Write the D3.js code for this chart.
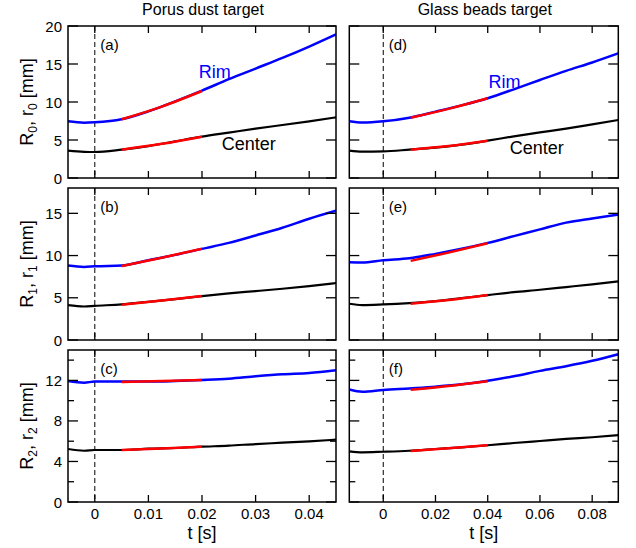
<!DOCTYPE html>
<html><head><meta charset="utf-8">
<script src="https://cdn.jsdelivr.net/npm/d3@7"></script>
<style>
html,body{margin:0;padding:0;background:#fff;}
svg{display:block;font-family:"Liberation Sans",Arial,sans-serif;}
</style></head>
<body>
<svg id="chart" width="636" height="548"></svg>
<script>
// ---- data ----
const titles = ["Porus dust target", "Glass beads target"];
const panelLabels = [["(a)", "(b)", "(c)"], ["(d)", "(e)", "(f)"]];
const xDomainLeft = [-0.005, 0.045];
const xDomainRight = [-0.013, 0.09];
const xTicksLeft = [0, 0.01, 0.02, 0.03, 0.04];
const xTicksRight = [0, 0.02, 0.04, 0.06, 0.08];
const yMax = [20, 18, 15];
const yTicksMajor = [[0, 5, 10, 15, 20], [0, 5, 10, 15], [0, 4, 8, 12]];
const yTicksMinor = [[], [], [2, 6, 10, 14]];
const ySubs = ["0", "1", "2"];

const tLeft = [-0.005, -0.002, 0, 0.005, 0.01, 0.015, 0.02, 0.025, 0.03, 0.035, 0.04, 0.045];
const rimA = [7.46, 7.28, 7.33, 7.72, 8.77, 10.09, 11.5, 13.0, 14.4, 15.8, 17.3, 18.9];
const cenA = [3.6, 3.45, 3.42, 3.73, 4.2, 4.82, 5.44, 5.97, 6.5, 6.97, 7.46, 7.98];
const rimB = [8.81, 8.65, 8.73, 8.81, 9.44, 10.08, 10.79, 11.5, 12.38, 13.29, 14.36, 15.3];
const cenB = [4.13, 3.97, 4.05, 4.21, 4.52, 4.84, 5.2, 5.52, 5.79, 6.07, 6.39, 6.75];
const rimC = [11.94, 11.78, 11.88, 11.88, 11.88, 11.94, 12.04, 12.17, 12.4, 12.6, 12.74, 13.0];
const cenC = [5.23, 5.06, 5.13, 5.13, 5.26, 5.33, 5.46, 5.56, 5.72, 5.85, 5.99, 6.15];

const tRight = [-0.013, -0.008, 0, 0.01, 0.02, 0.03, 0.04, 0.05, 0.06, 0.07, 0.08, 0.09];
const rimD = [7.46, 7.3, 7.46, 7.94, 8.73, 9.56, 10.5, 11.67, 12.9, 14.1, 15.2, 16.4];
const cenD = [3.6, 3.46, 3.5, 3.73, 3.99, 4.39, 4.91, 5.48, 6.0, 6.5, 7.06, 7.63];
const rimE = [9.2, 9.17, 9.44, 9.68, 10.2, 10.8, 11.5, 12.3, 13.1, 13.9, 14.4, 14.85];
const cenE = [4.29, 4.13, 4.21, 4.37, 4.6, 4.96, 5.32, 5.67, 5.95, 6.27, 6.59, 6.94];
const rimF = [11.1, 10.88, 11.05, 11.21, 11.38, 11.61, 11.97, 12.4, 12.94, 13.4, 13.93, 14.58];
const cenF = [5.0, 4.9, 4.96, 5.06, 5.23, 5.4, 5.6, 5.82, 6.02, 6.22, 6.39, 6.59];

// red linear-fit segments
const fitTLeft = [0.005, 0.0125, 0.02];
const fitRimA = [7.72, 9.4, 11.45];
const fitCenA = [3.73, 4.5, 5.44];
const fitRimB = [8.75, 9.75, 10.8];
const fitCenB = [4.18, 4.67, 5.2];
const fitRimC = [11.85, 11.93, 12.04];
const fitCenC = [5.13, 5.28, 5.45];
const fitTRight = [0.0105, 0.025, 0.04];
const fitRimD = [7.94, 9.1, 10.5];
const fitCenD = [3.73, 4.2, 4.9];
const fitRimE = [9.37, 10.35, 11.45];
const fitCenE = [4.3, 4.73, 5.33];
const fitRimF = [11.07, 11.45, 11.92];
const fitCenF = [5.03, 5.3, 5.6];

// ---- layout ----
const colX = [[68, 336], [349.3, 618.3]];
const rowY = [[26, 178], [188, 340], [350, 502]];
const FONT = 15;

const svg = d3.select("#chart");
const defs = svg.append("defs");

const series = [
  [[rimA, cenA, fitRimA, fitCenA], [rimB, cenB, fitRimB, fitCenB], [rimC, cenC, fitRimC, fitCenC]],
  [[rimD, cenD, fitRimD, fitCenD], [rimE, cenE, fitRimE, fitCenE], [rimF, cenF, fitRimF, fitCenF]]
];

for (let c = 0; c < 2; c++) {
  const xs = d3.scaleLinear().domain(c === 0 ? xDomainLeft : xDomainRight).range(colX[c]);
  const tArr = c === 0 ? tLeft : tRight;
  const fitT = c === 0 ? fitTLeft : fitTRight;
  const xt = c === 0 ? xTicksLeft : xTicksRight;

  // column title
  svg.append("text").attr("x", (colX[c][0] + colX[c][1]) / 2 + 1).attr("y", 15)
    .attr("text-anchor", "middle").attr("font-size", 16).text(titles[c]);

  for (let r = 0; r < 3; r++) {
    const ys = d3.scaleLinear().domain([0, yMax[r]]).range([rowY[r][1], rowY[r][0]]);
    const g = svg.append("g");
    const clipId = `clip${c}${r}`;
    defs.append("clipPath").attr("id", clipId).append("rect")
      .attr("x", colX[c][0]).attr("y", rowY[r][0])
      .attr("width", colX[c][1] - colX[c][0]).attr("height", rowY[r][1] - rowY[r][0]);

    const plot = g.append("g").attr("clip-path", `url(#${clipId})`);
    // dashed t=0 line
    plot.append("line").attr("x1", xs(0)).attr("x2", xs(0))
      .attr("y1", rowY[r][0]).attr("y2", rowY[r][1])
      .attr("stroke", "#000").attr("stroke-width", 1).attr("stroke-dasharray", "5,3");

    const [rim, cen, fRim, fCen] = series[c][r];
    const line = d3.line().x(d => xs(d[0])).y(d => ys(d[1])).curve(d3.curveMonotoneX);
    plot.append("path").attr("d", line(tArr.map((t, i) => [t, cen[i]])))
      .attr("fill", "none").attr("stroke", "#000").attr("stroke-width", 2.2);
    plot.append("path").attr("d", line(tArr.map((t, i) => [t, rim[i]])))
      .attr("fill", "none").attr("stroke", "#0000ff").attr("stroke-width", 2.5);
    plot.append("path").attr("d", line(fitT.map((t, i) => [t, fCen[i]])))
      .attr("fill", "none").attr("stroke", "#ff0000").attr("stroke-width", 2.5);
    plot.append("path").attr("d", line(fitT.map((t, i) => [t, fRim[i]])))
      .attr("fill", "none").attr("stroke", "#ff0000").attr("stroke-width", 2.5);

    // axes ticks (inward) on all four sides
    const axG = g.append("g").attr("stroke", "#000").attr("stroke-width", 1.3);
    xt.forEach(t => {
      axG.append("line").attr("x1", xs(t)).attr("x2", xs(t)).attr("y1", rowY[r][1]).attr("y2", rowY[r][1] - 7);
      axG.append("line").attr("x1", xs(t)).attr("x2", xs(t)).attr("y1", rowY[r][0]).attr("y2", rowY[r][0] + 7);
    });
    yTicksMajor[r].forEach(v => {
      axG.append("line").attr("x1", colX[c][0]).attr("x2", colX[c][0] + 10).attr("y1", ys(v)).attr("y2", ys(v));
      axG.append("line").attr("x1", colX[c][1]).attr("x2", colX[c][1] - 10).attr("y1", ys(v)).attr("y2", ys(v));
    });
    yTicksMinor[r].forEach(v => {
      axG.append("line").attr("x1", colX[c][0]).attr("x2", colX[c][0] + 6).attr("y1", ys(v)).attr("y2", ys(v));
      axG.append("line").attr("x1", colX[c][1]).attr("x2", colX[c][1] - 6).attr("y1", ys(v)).attr("y2", ys(v));
    });

    // frame
    g.append("rect").attr("x", colX[c][0]).attr("y", rowY[r][0])
      .attr("width", colX[c][1] - colX[c][0]).attr("height", rowY[r][1] - rowY[r][0])
      .attr("fill", "none").attr("stroke", "#000").attr("stroke-width", 1.5);

    // y tick labels, left column only
    if (c === 0) {
      yTicksMajor[r].forEach(v => {
        g.append("text").attr("x", colX[c][0] - 6).attr("y", ys(v) + 5.5)
          .attr("text-anchor", "end").attr("font-size", FONT).text(v);
      });
      const cy = (rowY[r][0] + rowY[r][1]) / 2;
      const yl = g.append("text").attr("transform", `translate(33,${cy}) rotate(-90)`)
        .attr("text-anchor", "middle").attr("font-size", 18);
      yl.append("tspan").text("R");
      yl.append("tspan").attr("font-size", 12).attr("dy", 4).text(ySubs[r]);
      yl.append("tspan").attr("dy", -4).text(", r");
      yl.append("tspan").attr("font-size", 12).attr("dy", 4).text(ySubs[r]);
      yl.append("tspan").attr("dy", -4).text(" [mm]");
    }
    // x tick labels, bottom row only
    if (r === 2) {
      xt.forEach(t => {
        g.append("text").attr("x", xs(t)).attr("y", rowY[r][1] + 17)
          .attr("text-anchor", "middle").attr("font-size", FONT)
          .text(t === 0 ? "0" : t.toFixed(2));
      });
      g.append("text").attr("x", (colX[c][0] + colX[c][1]) / 2).attr("y", rowY[r][1] + 37)
        .attr("text-anchor", "middle").attr("font-size", 18).text("t [s]");
    }
    // panel letter
    g.append("text").attr("x", xs(0) + 5.5).attr("y", rowY[r][0] + 24)
      .attr("font-size", FONT).text(panelLabels[c][r]);

    // Rim / Center labels on top row
    if (r === 0) {
      const lab = c === 0 ? { rim: [0.0194, 13.1], cen: [0.0237, 3.7] } : { rim: [0.0403, 11.9], cen: [0.0484, 3.2] };
      g.append("text").attr("x", xs(lab.rim[0])).attr("y", ys(lab.rim[1]))
        .attr("font-size", 18).attr("fill", "#0000ff").text("Rim");
      g.append("text").attr("x", xs(lab.cen[0])).attr("y", ys(lab.cen[1]))
        .attr("font-size", 18).attr("fill", "#000").text("Center");
    }
  }
}
</script>
</body></html>
